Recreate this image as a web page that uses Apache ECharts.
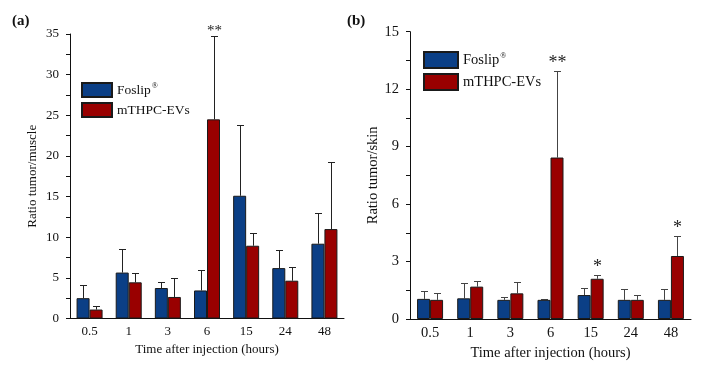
<!DOCTYPE html>
<html>
<head>
<meta charset="utf-8">
<script src="https://cdn.jsdelivr.net/npm/echarts@6/dist/echarts.min.js"></script>
<style>
  html, body { margin: 0; padding: 0; background: #fff; }
  #chart { width: 713px; height: 370px; }
</style>
</head>
<body>
<div id="chart"></div>
<script>
// time points (hours)
var categories = ['0.5', '1', '3', '6', '15', '24', '48'];

// (a) ratio tumor/muscle
var muscleFoslip    = [2.5, 5.65, 3.75, 3.45, 15.1, 6.2, 9.2];
var muscleFoslipErr = [1.65, 2.95, 0.7, 2.55, 8.7, 2.25, 3.75];
var muscleEVs       = [1.1, 4.45, 2.65, 24.5, 8.95, 4.65, 11.0];
var muscleEVsErr    = [0.4, 1.2, 2.35, 10.3, 1.55, 1.65, 8.3];
var muscleStars     = ['', '', '', '**', '', '', ''];

// (b) ratio tumor/skin
var skinFoslip    = [1.05, 1.08, 1.0, 1.0, 1.25, 1.0, 1.0];
var skinFoslipErr = [0.4, 0.78, 0.13, 0.02, 0.35, 0.57, 0.57];
var skinEVs       = [1.0, 1.69, 1.34, 8.43, 2.1, 1.0, 3.29];
var skinEVsErr    = [0.34, 0.31, 0.61, 4.5, 0.22, 0.27, 1.05];
var skinStars     = ['', '', '', '**', '*', '', '*'];

var FONT = '"Liberation Serif", "Times New Roman", serif';
var BLUE = '#0b3f86';
var RED = '#990000';
var BAR_W = 13;

function errData(vals, errs, stars) {
  return vals.map(function (v, i) {
    return [i, v, errs[i], stars ? stars[i] : ''];
  });
}

// error bar (upward only) + significance stars
function errSeries(idx, vals, errs, stars, offset, color, starSize, starGap) {
  return {
    type: 'custom',
    xAxisIndex: idx,
    yAxisIndex: idx,
    z: 1,
    silent: true,
    encode: { x: 0, y: 1 },
    data: errData(vals, errs, stars),
    renderItem: function (params, api) {
      var i = api.value(0);
      var v = api.value(1);
      var e = api.value(2);
      var s = stars ? stars[i] : '';
      var x = Math.round(api.coord([i, 0])[0] + offset) + 0.5;
      var y0 = api.coord([i, v])[1];
      var y1 = Math.round(api.coord([i, v + e])[1]) + 0.5;
      var kids = [
        { type: 'line', shape: { x1: x, y1: y0, x2: x, y2: y1 }, style: { stroke: color, lineWidth: 1 } },
        { type: 'line', shape: { x1: x - 3.5, y1: y1, x2: x + 3.5, y2: y1 }, style: { stroke: color, lineWidth: 1 } }
      ];
      if (s) {
        kids.push({
          type: 'text',
          x: x,
          y: y1 - starGap,
          style: { text: s, align: 'center', verticalAlign: 'middle', fill: '#222', font: starSize + 'px ' + FONT }
        });
      }
      return { type: 'group', children: kids };
    }
  };
}

function barSeries(idx, name, vals, color) {
  return {
    name: name,
    type: 'bar',
    xAxisIndex: idx,
    yAxisIndex: idx,
    barWidth: BAR_W,
    barGap: '0%',
    z: 2,
    itemStyle: { color: color, borderColor: '#1a1a1a', borderWidth: 1 },
    data: vals
  };
}

function legendFor(left, top, w, h, size) {
  return {
    orient: 'vertical',
    left: left,
    top: top,
    padding: 0,
    itemWidth: w,
    itemHeight: h,
    itemGap: 4,
    icon: 'rect',
    selectedMode: false,
    data: ['Foslip', 'mTHPC-EVs'],
    formatter: function (name) {
      return name === 'Foslip' ? '{n|Foslip}{s|®}' : '{n|' + name + '}';
    },
    textStyle: {
      rich: {
        n: { fontFamily: FONT, fontSize: size, color: '#111' },
        s: { fontFamily: FONT, fontSize: 8, color: '#111', verticalAlign: 'top', padding: [0, 0, 8, 1] }
      }
    }
  };
}

function xAxisFor(idx, size, gap) {
  return {
    type: 'category',
    gridIndex: idx,
    data: categories,
    name: 'Time after injection (hours)',
    nameLocation: 'middle',
    nameGap: gap,
    nameTextStyle: { fontFamily: FONT, fontSize: size, color: '#111' },
    axisLine: { lineStyle: { color: '#111', width: 1 } },
    axisTick: { length: 4, lineStyle: { color: '#111' } },
    axisLabel: { fontFamily: FONT, fontSize: size, color: '#111', margin: 7 },
    splitLine: { show: false }
  };
}

function yAxisFor(idx, name, max, step, labelStep, size, gap) {
  return {
    type: 'value',
    gridIndex: idx,
    min: 0,
    max: max,
    interval: step,
    name: name,
    nameLocation: 'middle',
    nameGap: gap,
    nameTextStyle: { fontFamily: FONT, fontSize: size, color: '#111' },
    axisLine: { show: true, lineStyle: { color: '#111', width: 1 } },
    axisTick: { show: true, length: 4, lineStyle: { color: '#111' } },
    axisLabel: {
      fontFamily: FONT, fontSize: size, color: '#111', margin: 11,
      formatter: function (v) {
        var r = v / labelStep;
        return Math.abs(r - Math.round(r)) < 1e-6 ? String(v) : '';
      }
    },
    splitLine: { show: false }
  };
}

var chart = echarts.init(document.getElementById('chart'));
chart.setOption({
  backgroundColor: '#fff',
  animation: false,
  title: [
    { text: '(a)', left: 12, top: 14, padding: 0, textStyle: { fontFamily: FONT, fontSize: 15, fontWeight: 'bold', color: '#111' } },
    { text: '(b)', left: 347, top: 14, padding: 0, textStyle: { fontFamily: FONT, fontSize: 15, fontWeight: 'bold', color: '#111' } }
  ],
  legend: [
    legendFor(81, 82, 30, 14, 13.5),
    legendFor(423, 51, 34, 16, 14.5)
  ],
  grid: [
    { left: 70, top: 34, width: 274, height: 284.5 },
    { left: 410, top: 31.7, width: 281, height: 287.3 }
  ],
  xAxis: [
    xAxisFor(0, 13, 21),
    xAxisFor(1, 14.5, 23)
  ],
  yAxis: [
    yAxisFor(0, 'Ratio tumor/muscle', 35, 2.5, 5, 13, 31),
    yAxisFor(1, 'Ratio tumor/skin', 15, 1.5, 3, 14.5, 29)
  ],
  series: [
    barSeries(0, 'Foslip', muscleFoslip, BLUE),
    barSeries(0, 'mTHPC-EVs', muscleEVs, RED),
    errSeries(0, muscleFoslip, muscleFoslipErr, null, -BAR_W / 2, '#222', 15, 5),
    errSeries(0, muscleEVs, muscleEVsErr, muscleStars, BAR_W / 2, '#222', 15, 5),
    barSeries(1, 'Foslip', skinFoslip, BLUE),
    barSeries(1, 'mTHPC-EVs', skinEVs, RED),
    errSeries(1, skinFoslip, skinFoslipErr, null, -BAR_W / 2, '#444', 18, 8),
    errSeries(1, skinEVs, skinEVsErr, skinStars, BAR_W / 2, '#444', 18, 8)
  ]
});
</script>
</body>
</html>
